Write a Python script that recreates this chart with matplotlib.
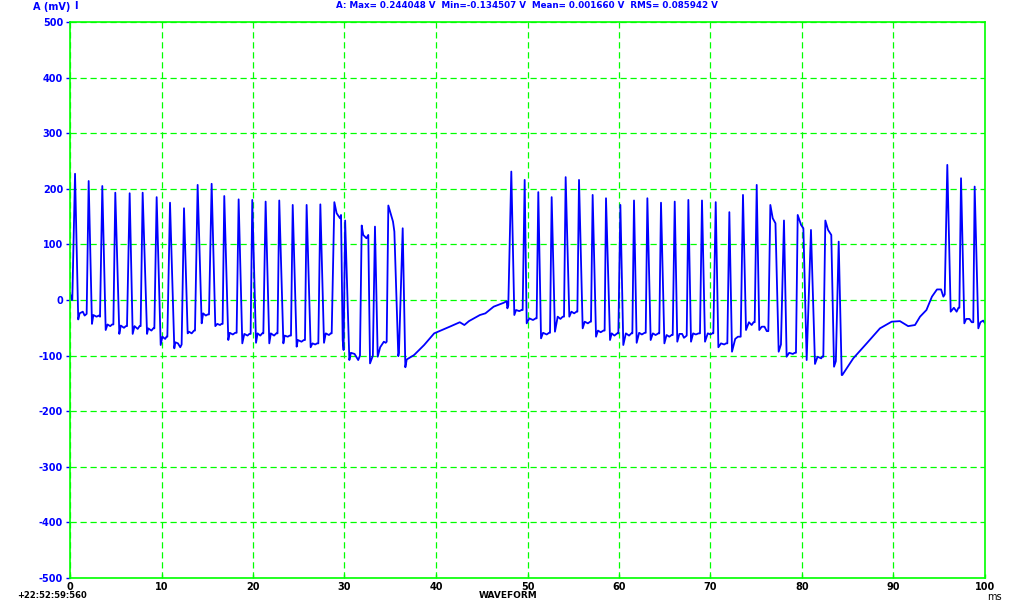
import matplotlib
matplotlib.use("Agg")
import matplotlib.pyplot as plt
import numpy as np

# waveform vertices (time in ms, amplitude in mV)
burst1_t = [0.0, 0.2,
            0.25, 0.55, 0.9, 1.05, 1.4, 1.6,
            1.82, 2.04, 2.40, 2.55, 2.9, 3.15,
            3.28, 3.53, 3.9, 4.1, 4.4, 4.6,
            4.74, 4.95, 5.39, 5.55, 5.9, 6.1,
            6.23, 6.52, 6.85, 7.05, 7.4, 7.6,
            7.72, 7.94, 8.42, 8.55, 8.9, 9.1,
            9.22, 9.47, 9.91, 10.1, 10.4, 10.55,
            10.64, 10.93, 11.4, 11.5, 11.8, 12.05,
            12.2, 12.46, 12.86, 13.0, 13.3, 13.55,
            13.66, 13.95, 14.39, 14.55, 14.85, 15.05,
            15.19, 15.48, 15.88, 16.1, 16.4, 16.55,
            16.68, 16.86, 17.3, 17.45, 17.8, 18.05,
            18.21, 18.43, 18.83, 19.05, 19.4, 19.6,
            19.74, 19.92, 20.33, 20.5, 20.8, 21.0,
            21.13, 21.38, 21.78, 21.95, 22.3, 22.55,
            22.68, 22.87, 23.32, 23.45, 23.8, 24.0,
            24.15, 24.34, 24.77, 24.9, 25.3, 25.55,
            25.68, 25.86, 26.3, 26.5, 26.8, 27.0,
            27.14, 27.36, 27.76, 27.95, 28.3, 28.5,
            28.6, 28.89, 29.14, 29.51, 29.62, 29.8, 29.9,
            30.07, 30.53, 30.7, 31.1, 31.5,
            31.69, 31.88, 32.05, 32.4, 32.6, 32.79,
            33.1, 33.33, 33.63, 33.9, 34.3, 34.5,
            34.61, 34.79, 35.15, 35.3, 35.45, 35.88,
            35.95, 36.36, 36.65]
burst1_v = [12, 0,
            0, 227, -35, -24, -21, -28,
            -25, 214, -43, -27, -30, -28,
            -30, 205, -54, -44, -47, -44,
            -44, 193, -61, -46, -50, -47,
            -47, 192, -61, -47, -52, -47,
            -47, 193, -61, -51, -55, -51,
            -51, 185, -81, -66, -70, -66,
            -66, 175, -87, -76, -78, -85,
            -80, 165, -60, -57, -60, -55,
            -55, 207, -42, -24, -28, -26,
            -26, 209, -47, -43, -45, -43,
            -43, 187, -72, -59, -62, -59,
            -59, 181, -78, -61, -64, -61,
            -61, 180, -77, -60, -64, -60,
            -60, 177, -78, -60, -64, -60,
            -60, 179, -78, -64, -66, -64,
            -64, 171, -84, -72, -75, -72,
            -72, 171, -85, -78, -80, -78,
            -78, 172, -77, -60, -63, -60,
            -60, 176, 156, 147, 153, -72, -90,
            143, -108, -95, -97, -108,
            -100, 134, 117, 111, 117, -114,
            -100, 132, -102, -85, -75, -77,
            -75, 170, 150, 141, 123, -101,
            -95, 129, -121]

ramp1_t = [36.8, 37.6, 38.7, 39.8, 41.5, 42.6, 43.1, 43.6, 44.8, 45.4,
           46.3, 47.4, 47.72, 47.8]
ramp1_v = [-107, -99, -81, -60, -48, -40, -45, -38, -27, -24,
           -12, -5, -2, -15]

burst2_t = [47.9, 48.23, 48.56, 48.75, 49.1, 49.35,
            49.47, 49.69, 49.91, 50.2, 50.6, 50.9,
            51.0, 51.18, 51.48, 51.7, 52.1, 52.35,
            52.46, 52.64, 53.0, 53.3, 53.6, 53.85,
            53.99, 54.17, 54.57, 54.8, 55.1, 55.35,
            55.45, 55.63, 56.03, 56.25, 56.6, 56.85,
            56.94, 57.12, 57.49, 57.7, 58.0, 58.3,
            58.43, 58.58, 59.02, 59.2, 59.5, 59.8,
            59.93, 60.15, 60.47, 60.75, 61.1, 61.35,
            61.46, 61.64, 61.93, 62.2, 62.5, 62.8,
            62.92, 63.1, 63.46, 63.7, 64.0, 64.3,
            64.4, 64.59, 64.96, 65.2, 65.5, 65.75,
            65.87, 66.09, 66.37, 66.6, 66.9, 67.1,
            67.4, 67.58, 67.87, 68.1, 68.4, 68.7,
            68.85, 69.07, 69.4, 69.7, 70.0, 70.2,
            70.31, 70.57, 70.86, 71.15, 71.5, 71.7,
            71.84, 72.06, 72.35, 72.7, 73.0, 73.2,
            73.3, 73.55, 73.88, 74.2, 74.5, 74.7,
            74.83, 75.05, 75.33, 75.6, 75.9, 76.15,
            76.32, 76.54, 76.8, 77.1, 77.45, 77.7,
            78.03, 78.32, 78.6, 79.0, 79.2,
            79.34, 79.53, 79.9, 80.15, 80.51,
            80.98, 81.42, 81.7, 82.1, 82.2,
            82.33, 82.55, 82.85, 83.2, 83.5, 83.7,
            84.01, 84.34]
burst2_v = [-10, 231, -27, -18, -20, -18,
            -18, 216, -42, -33, -36, -33,
            -33, 194, -69, -59, -62, -59,
            -59, 185, -57, -30, -34, -30,
            -30, 221, -30, -21, -24, -21,
            -21, 216, -51, -39, -42, -39,
            -39, 189, -66, -55, -58, -55,
            -55, 183, -72, -60, -64, -60,
            -60, 171, -81, -60, -64, -60,
            -60, 179, -77, -59, -62, -59,
            -59, 183, -72, -60, -63, -60,
            -60, 175, -78, -63, -66, -63,
            -63, 177, -75, -61, -61, -68,
            -64, 180, -75, -60, -62, -60,
            -60, 179, -75, -60, -62, -60,
            -60, 176, -85, -78, -80, -78,
            -78, 158, -93, -70, -66, -66,
            -66, 189, -54, -40, -45, -40,
            -40, 207, -54, -48, -48, -56,
            -56, 171, 147, 138, -93, -80,
            143, -102, -95, -97, -95,
            -95, 153, 135, 129, -108,
            126, -115, -102, -105, -102,
            -102, 143, 126, 117, -120, -110,
            105, -135]

ramp2_t = [84.4, 85.6, 87.07, 88.52, 89.8, 90.7, 91.6, 92.35, 92.9, 93.6,
           94.2, 94.75, 95.2, 95.45]
ramp2_v = [-135, -105, -78, -51, -39, -38, -47, -45, -30, -18,
           6, 19, 19, 6]

burst3_t = [95.6, 95.88, 96.25, 96.6, 96.9, 97.1,
            97.2, 97.38, 97.74, 97.95, 98.3, 98.55,
            98.72, 98.87, 99.27, 99.5, 99.8, 100.0]
burst3_v = [10, 243, -21, -14, -21, -14,
            -14, 219, -42, -34, -34, -40,
            -40, 204, -51, -40, -37, -42]

x_ticks = [0, 10, 20, 30, 40, 50, 60, 70, 80, 90, 100]
y_ticks = [-500, -400, -300, -200, -100, 0, 100, 200, 300, 400, 500]

title_text = "A: Max= 0.244048 V  Min=-0.134507 V  Mean= 0.001660 V  RMS= 0.085942 V"

green = "#00ff00"
blue = "#0000ff"

t = np.array(burst1_t + ramp1_t + burst2_t + ramp2_t + burst3_t)
v = np.array(burst1_v + ramp1_v + burst2_v + ramp2_v + burst3_v)

fig = plt.figure(figsize=(10.2, 6.04), dpi=100)
ax = fig.add_axes([70 / 1020, 26 / 604, 915 / 1020, 556 / 604])

ax.plot(t, v, color=blue, linewidth=1.3)

ax.set_xlim(0, 100)
ax.set_ylim(-500, 500)
ax.set_xticks(x_ticks)
ax.set_yticks(y_ticks)
ax.set_xticklabels([str(x) for x in x_ticks], fontsize=7, fontweight="bold")
ax.set_yticklabels([str(y) for y in y_ticks], fontsize=7, fontweight="bold",
                   color=blue)
ax.tick_params(axis="x", direction="in", length=3, width=1, color=green, pad=3)
ax.tick_params(axis="y", direction="out", length=3, width=1, color=blue, pad=2)

for s in ax.spines.values():
    s.set_color(green)
    s.set_linewidth(1.2)

ax.grid(True, color=green, linewidth=0.9, linestyle=(0, (5, 3)))
ax.set_axisbelow(True)

fig.text(33 / 1020, 1 - 7 / 604, "A (mV)", color=blue, fontsize=7,
         fontweight="bold", va="center", ha="left")
fig.text(74 / 1020, 1 - 6 / 604, "I", color=blue, fontsize=7,
         fontweight="bold", va="center", ha="left")
fig.text(527 / 1020, 1 - 6 / 604, title_text, color=blue, fontsize=6.3,
         fontweight="bold", va="center", ha="center")
fig.text(17 / 1020, 1 - 596 / 604, "+22:52:59:560", color="black", fontsize=6,
         fontweight="bold", va="center", ha="left")
fig.text(508 / 1020, 1 - 596 / 604, "WAVEFORM", color="black", fontsize=6.5,
         fontweight="bold", va="center", ha="center")
fig.text(987 / 1020, 1 - 597 / 604, "ms", color="black", fontsize=7,
         va="center", ha="left")

fig.savefig("out.png", dpi=100, facecolor="white")
